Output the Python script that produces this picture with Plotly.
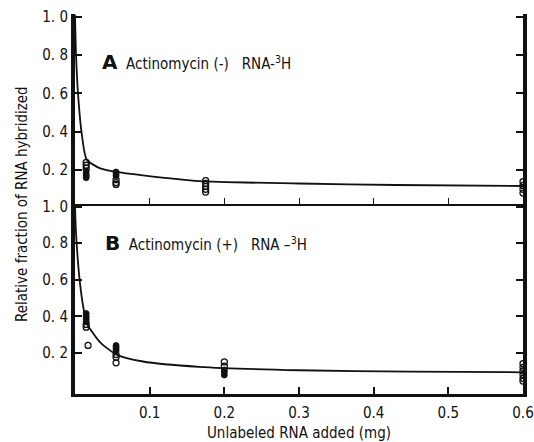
import plotly.graph_objects as go

# ---- data ----
# Panel A: Actinomycin (-)
a_open_x = [0.015, 0.015, 0.015, 0.055, 0.055, 0.055, 0.175, 0.175, 0.175, 0.175, 0.175, 0.6, 0.6, 0.6, 0.6]
a_open_y = [0.24, 0.225, 0.21, 0.15, 0.135, 0.125, 0.145, 0.13, 0.115, 0.10, 0.085, 0.14, 0.12, 0.10, 0.08]
a_fill_x = [0.015, 0.015, 0.015, 0.015, 0.055, 0.055, 0.055]
a_fill_y = [0.195, 0.18, 0.17, 0.16, 0.19, 0.18, 0.17]
a_curve_x = [0.0, 0.0013, 0.004, 0.009, 0.0156, 0.033, 0.0555, 0.091, 0.166, 0.3, 0.43, 0.6]
a_curve_y = [1.01, 0.81, 0.60, 0.39, 0.255, 0.21, 0.19, 0.172, 0.142, 0.13, 0.122, 0.117]

# Panel B: Actinomycin (+)
b_open_x = [0.015, 0.015, 0.0175, 0.055, 0.055, 0.055, 0.2, 0.2, 0.6, 0.6, 0.6, 0.6, 0.6, 0.6]
b_open_y = [0.355, 0.34, 0.24, 0.19, 0.175, 0.145, 0.15, 0.127, 0.14, 0.12, 0.10, 0.08, 0.06, 0.045]
b_fill_x = [0.015, 0.015, 0.015, 0.015, 0.055, 0.055, 0.055, 0.055, 0.2, 0.2, 0.2]
b_fill_y = [0.415, 0.40, 0.385, 0.37, 0.24, 0.23, 0.22, 0.21, 0.105, 0.094, 0.078]
b_curve_x = [0.0, 0.0013, 0.0067, 0.012, 0.016, 0.033, 0.0555, 0.091, 0.166, 0.3, 0.45, 0.6]
b_curve_y = [1.01, 0.86, 0.58, 0.43, 0.36, 0.26, 0.19, 0.152, 0.123, 0.104, 0.097, 0.093]

x_ticks = [0.1, 0.2, 0.3, 0.4, 0.5, 0.6]
x_ticklabels = ["0.1", "0.2", "0.3", "0.4", "0.5", "0.6"]
y_ticks = [0.2, 0.4, 0.6, 0.8, 1.0]
y_ticklabels = ["0. 2", "0. 4", "0. 6", "0. 8", "1. 0"]

FONT = "DejaVu Sans Condensed, Liberation Sans Narrow, DejaVu Sans, sans-serif"
INK = "#111111"

fig = go.Figure()

def add_panel(xc, yc, xo, yo, xf, yf, xa, ya):
    fig.add_trace(go.Scatter(x=xc, y=yc, mode="lines", line=dict(color=INK, width=1.8, shape="spline", smoothing=0.6),
                             xaxis=xa, yaxis=ya, hoverinfo="skip", cliponaxis=False))
    fig.add_trace(go.Scatter(x=xo, y=yo, mode="markers", xaxis=xa, yaxis=ya, cliponaxis=False,
                             marker=dict(symbol="circle-open", size=6, color=INK, line=dict(width=1.3))))
    fig.add_trace(go.Scatter(x=xf, y=yf, mode="markers", xaxis=xa, yaxis=ya, cliponaxis=False,
                             marker=dict(symbol="circle", size=6, color=INK, line=dict(width=0.8, color=INK))))

add_panel(b_curve_x, b_curve_y, b_open_x, b_open_y, b_fill_x, b_fill_y, "x", "y")
add_panel(a_curve_x, a_curve_y, a_open_x, a_open_y, a_fill_x, a_fill_y, "x2", "y2")

xr = [0, 0.6]
common_x = dict(range=xr, tickvals=x_ticks, showgrid=False, zeroline=False, tickcolor=INK, linecolor=INK,
                automargin=False)

fig.update_layout(
    width=534, height=442,
    margin=dict(l=75, r=11, t=14, b=48),
    paper_bgcolor="white", plot_bgcolor="white",
    showlegend=False,
    font=dict(family=FONT, size=15, color=INK),
    xaxis=dict(**common_x, anchor="y", showline=True, linewidth=3, ticks="inside", ticklen=7, tickwidth=1.5,
               ticktext=x_ticklabels, showticklabels=True, tickfont=dict(size=15), ticklabelstandoff=3,
               ticklabeloverflow="allow",
               title=dict(text="Unlabeled RNA added (mg)", font=dict(size=15), standoff=12)),
    xaxis2=dict(**common_x, anchor="y2", matches="x", showline=True, linewidth=1.5, ticks="inside", ticklen=6,
                tickwidth=1.3, showticklabels=False),
    xaxis3=dict(**common_x, overlaying="x", anchor="y", side="top", showline=False, ticks="inside", ticklen=6,
                tickwidth=1.3, showticklabels=False),
    xaxis4=dict(**common_x, overlaying="x", anchor="y2", side="top", showline=True, linewidth=3, ticks="inside",
                ticklen=7, tickwidth=1.5, showticklabels=False),
    yaxis=dict(domain=[0, 0.5], range=[-0.026, 1.015], tickvals=y_ticks, ticktext=y_ticklabels, showgrid=False,
               zeroline=False, showline=True, linewidth=4, linecolor=INK, mirror="ticks", ticks="inside",
               ticklen=7, tickwidth=1.5, tickcolor=INK, tickfont=dict(size=15), automargin=False,
               ticklabeloverflow="allow"),
    yaxis2=dict(domain=[0.5, 1], range=[0.023, 1.014], tickvals=y_ticks, ticktext=y_ticklabels, showgrid=False,
                zeroline=False, showline=True, linewidth=4, linecolor=INK, mirror="ticks", ticks="inside",
                ticklen=7, tickwidth=1.5, tickcolor=INK, tickfont=dict(size=15), automargin=False,
                ticklabeloverflow="allow"),
)

fig.add_annotation(xref="paper", yref="paper", x=0, y=0.5, xshift=-53, textangle=-90,
                   text="Relative fraction of RNA hybridized", showarrow=False,
                   xanchor="center", yanchor="middle", font=dict(size=15, family=FONT, color=INK))
fig.add_annotation(xref="paper", yref="paper", x=0.056, y=0.874, xanchor="left", yanchor="middle",
                   showarrow=False, font=dict(size=15, family=FONT, color=INK),
                   text="<b><span style='font-size:20px;font-family:DejaVu Sans'>A</span></b>  Actinomycin (-)   RNA-<sup>3</sup>H")
fig.add_annotation(xref="paper", yref="paper", x=0.062, y=0.397, xanchor="left", yanchor="middle",
                   showarrow=False, font=dict(size=15, family=FONT, color=INK),
                   text="<b><span style='font-size:20px;font-family:DejaVu Sans'>B</span></b>  Actinomycin (+)   RNA –<sup>3</sup>H")

fig.write_html("out.html")
